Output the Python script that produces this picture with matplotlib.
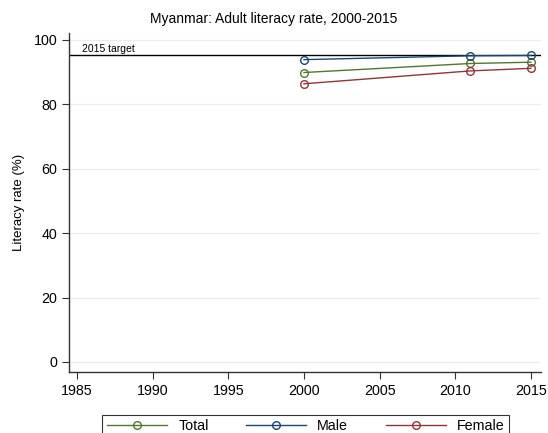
import matplotlib
matplotlib.use("Agg")
import matplotlib.pyplot as plt

# data
years = [2000, 2011, 2015]
total = [89.9, 92.7, 93.1]
male = [93.9, 95.1, 95.2]
female = [86.4, 90.4, 91.2]
target = 95.2
xticks = [1985, 1990, 1995, 2000, 2005, 2010, 2015]
yticks = [0, 20, 40, 60, 80, 100]

plt.rcParams['font.family'] = ['Liberation Sans', 'DejaVu Sans']

fig = plt.figure(figsize=(5.48, 4.33), dpi=100)
ax = fig.add_axes([0.126, 0.141, 0.861, 0.783])

# light horizontal grid
for y in yticks:
    ax.axhline(y, color='#ececec', lw=0.8, zorder=0)

# target line
ax.axhline(target, color='black', lw=1.0, zorder=1)
ax.text(1985.3, target + 0.6, "2015 target", fontsize=7.5, va='bottom', ha='left')

series = [("Total", total, '#55752f'),
          ("Male", male, '#1a476f'),
          ("Female", female, '#90353b')]
for name, vals, col in series:
    ax.plot(years, vals, color=col, lw=1.0, marker='o', markersize=5.5,
            markerfacecolor='none', markeredgecolor=col, markeredgewidth=1.0,
            label=name, zorder=3)

ax.set_xlim(1984.47, 2015.66)
ax.set_ylim(-3.1, 102.2)
ax.set_xticks(xticks)
ax.set_yticks(yticks)
ax.tick_params(labelsize=10.3, length=5, direction='out', color='#333333')
ax.set_ylabel("Literacy rate (%)", fontsize=9.5, labelpad=6)
fig.text(0.5, 1 - 19 / 433, "Myanmar: Adult literacy rate, 2000-2015",
         fontsize=10, ha='center', va='center')

for s in ['top', 'right']:
    ax.spines[s].set_visible(False)
for s in ['left', 'bottom']:
    ax.spines[s].set_color('#333333')
    ax.spines[s].set_linewidth(1.0)

leg = fig.legend(loc='upper center', bbox_to_anchor=(0.558, 1 - 415 / 433),
                 ncol=3, fontsize=10.3, frameon=True, fancybox=False,
                 edgecolor='black', handlelength=4.2, columnspacing=2.6,
                 borderpad=0.3, borderaxespad=0)
leg.get_frame().set_linewidth(0.8)

fig.savefig("out.png", dpi=100)
